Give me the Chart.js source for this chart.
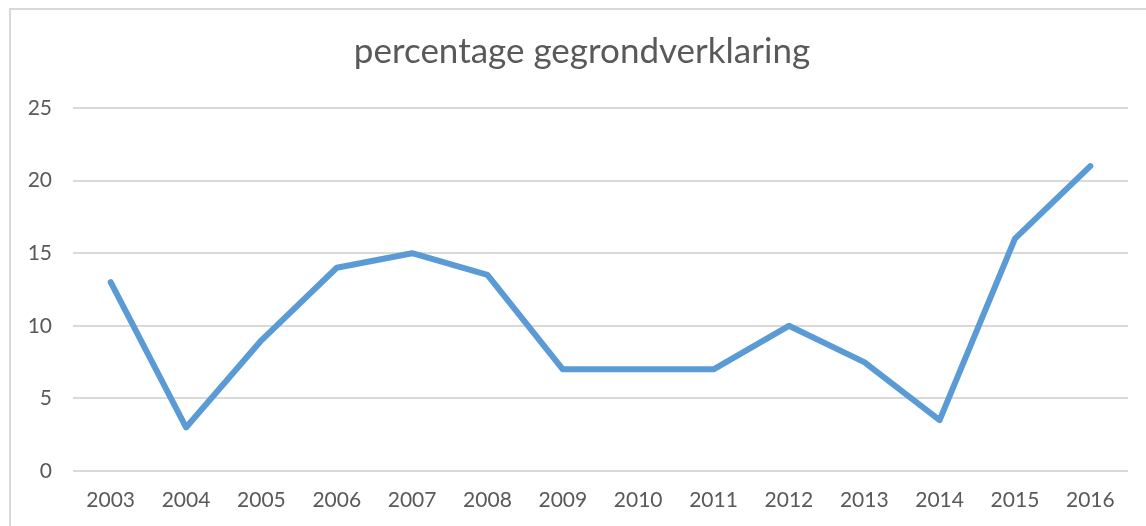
<!DOCTYPE html>
<html>
<head>
<meta charset="utf-8">
<script src="https://cdn.jsdelivr.net/npm/chart.js@4/dist/chart.umd.min.js"></script>
<style>
html,body{margin:0;padding:0;background:#fff;}
#wrap{position:relative;width:1146px;height:526px;}
</style>
</head>
<body>
<div id="wrap"><canvas id="c" width="1146" height="526"></canvas></div>
<script>
const categories = ['2003','2004','2005','2006','2007','2008','2009','2010','2011','2012','2013','2014','2015','2016'];
const seriesValues = [13, 3, 9, 14, 15, 13.5, 7, 7, 7, 10, 7.5, 3.5, 16, 21];
const yTicks = [0, 5, 10, 15, 20, 25];
const titleText = 'percentage gegrondverklaring';

const frame = {
  id: 'frame',
  beforeDraw(chart) {
    const ctx = chart.ctx;
    ctx.save();
    ctx.fillStyle = '#fff';
    ctx.fillRect(0, 0, chart.width, chart.height);
    ctx.strokeStyle = '#d9d9d9';
    ctx.lineWidth = 2;
    ctx.beginPath();
    ctx.moveTo(10, chart.height);
    ctx.lineTo(10, 9);
    ctx.lineTo(chart.width, 9);
    ctx.stroke();
    ctx.fillStyle = '#595959';
    ctx.font = 'normal 35px Lato, "Open Sans", sans-serif';
    ctx.textAlign = 'center';
    ctx.textBaseline = 'middle';
    ctx.fillText(titleText, 582, 52);
    ctx.restore();
  }
};

new Chart(document.getElementById('c'), {
  type: 'line',
  data: {
    labels: categories,
    datasets: [{
      data: seriesValues,
      borderColor: '#5B9BD5',
      borderWidth: 6,
      pointRadius: 0,
      tension: 0,
      fill: false,
      borderJoinStyle: 'round',
      borderCapStyle: 'round'
    }]
  },
  options: {
    responsive: false,
    animation: false,
    layout: { padding: { left: 0, right: 18, top: 108, bottom: 0 } },
    plugins: {
      legend: { display: false },
      tooltip: { enabled: false },
      title: { display: false }
    },
    scales: {
      x: {
        offset: true,
        grid: { display: false, drawTicks: false },
        border: { display: false },
        ticks: {
          color: '#595959',
          font: { family: 'Lato, "Open Sans", sans-serif', size: 21 },
          padding: 17,
          maxRotation: 0
        },
        afterFit(s) { s.height = 55; }
      },
      y: {
        min: 0,
        max: 25,
        afterBuildTicks(s) { s.ticks = yTicks.map(v => ({ value: v })); },
        grid: { color: '#d9d9d9', lineWidth: 2, drawTicks: false },
        border: { display: false },
        ticks: {
          color: '#595959',
          font: { family: 'Lato, "Open Sans", sans-serif', size: 21 },
          padding: 21
        },
        afterFit(s) { s.width = 73; }
      }
    }
  },
  plugins: [frame]
});
</script>
</body>
</html>
